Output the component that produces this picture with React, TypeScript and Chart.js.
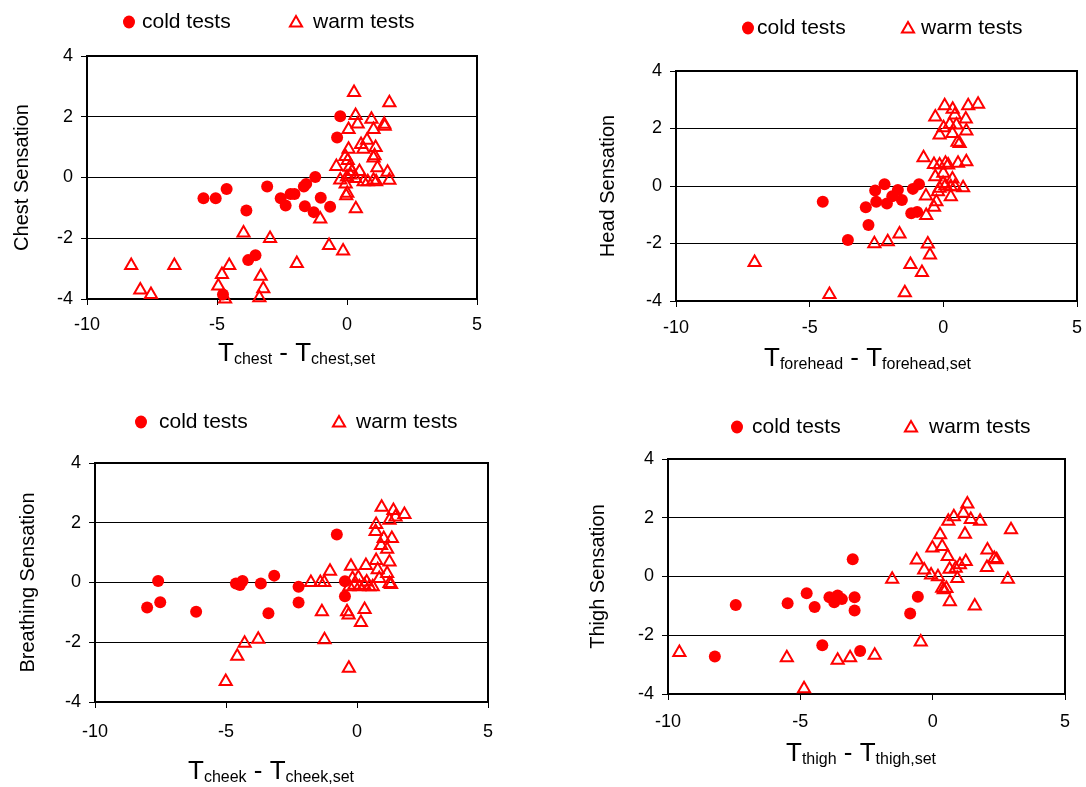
import React, { useEffect, useRef } from 'react';
import { Chart, registerables } from 'chart.js';

Chart.register(...registerables);

const FONT = "'Liberation Sans', Arial, Helvetica, sans-serif";
const RED = '#FF0000';

const xTicks = [-10, -5, 0, 5];
const yTicks = [-4, -2, 0, 2, 4];
const legendLabels = ['cold tests', 'warm tests'];

const chestCold: number[][] = [
  [-5.52, -0.68], [-5.05, -0.68], [-4.63, -0.38], [-3.07, -0.3], [-3.87, -1.09], [-3.8, -2.72],
  [-3.52, -2.56], [-4.77, -3.85], [-2.55, -0.68], [-2.36, -0.92], [-2.17, -0.54], [-2.02, -0.54],
  [-1.62, -0.95], [-1.28, -1.14], [-1.01, -0.67], [-0.65, -0.96], [-1.22, 0.02], [-1.57, -0.21],
  [-1.66, -0.3], [-0.26, 2.02], [-0.38, 1.32],
];
const chestWarm: number[][] = [
  [-8.3, -2.9], [-6.64, -2.9], [-7.95, -3.7], [-7.54, -3.85], [-3.98, -1.83], [-2.96, -2.01],
  [-4.53, -2.9], [-4.81, -3.19], [-4.95, -3.57], [-4.69, -4.0], [-3.32, -3.25], [-3.22, -3.66],
  [-3.37, -3.96], [0.27, 2.8], [1.63, 2.46], [0.33, 2.04], [0.41, 1.76], [0.06, 1.58], [0.94, 1.92],
  [1.02, 1.58], [1.43, 1.75], [1.45, 1.69], [0.77, 1.23], [0.54, 1.09], [0.63, 0.93], [0.06, 0.93],
  [1.1, 0.99], [1.06, 0.72], [1.02, 0.64], [-0.06, 0.69], [0.03, 0.56], [-0.41, 0.36], [1.17, 0.32],
  [0.1, 0.34], [0.19, 0.2], [0.48, 0.2], [-0.26, -0.08], [0.0, 0.02], [0.13, 0.08], [0.32, -0.03],
  [0.64, -0.14], [0.8, -0.14], [1.02, -0.09], [1.12, -0.14], [1.56, 0.17], [1.63, -0.09],
  [-0.05, -0.21], [0.01, -0.52], [-0.03, -0.6], [0.34, -1.03], [-1.03, -1.37], [-0.69, -2.24],
  [-0.15, -2.42], [-1.93, -2.83],
];

const headCold: number[][] = [
  [-4.51, -0.55], [-2.9, -0.74], [-2.8, -1.36], [-3.57, -1.88], [-2.55, -0.16], [-2.51, -0.55],
  [-2.2, 0.06], [-2.11, -0.61], [-1.91, -0.36], [-1.7, -0.14], [-1.55, -0.49], [-1.14, -0.1],
  [-0.91, 0.06], [-1.2, -0.95], [-0.98, -0.9],
];
const headWarm: number[][] = [
  [-7.06, -2.66], [-4.26, -3.77], [0.05, 2.79], [0.35, 2.67], [0.93, 2.79], [1.3, 2.84], [-0.3, 2.4],
  [0.43, 2.47], [0.84, 2.33], [0.01, 2.03], [0.24, 2.14], [0.49, 2.12], [-0.14, 1.77], [0.34, 1.83],
  [0.86, 1.91], [0.53, 1.52], [0.61, 1.48], [-0.74, 0.98], [-0.35, 0.75], [-0.14, 0.73], [0.08, 0.79],
  [0.18, 0.73], [0.55, 0.79], [0.86, 0.84], [-0.3, 0.32], [0.0, 0.44], [0.34, 0.24], [-0.01, 0.09],
  [-0.14, -0.08], [0.08, 0.01], [0.28, -0.03], [0.43, -0.03], [0.74, -0.06], [-0.2, -0.2],
  [0.28, -0.37], [-0.65, -0.35], [-0.26, -0.55], [-0.35, -0.74], [-0.64, -1.03], [-1.64, -1.67],
  [-2.08, -1.94], [-2.58, -2.01], [-0.58, -2.02], [-0.5, -2.4], [-1.23, -2.73], [-0.8, -3.01],
  [-1.44, -3.71],
];

const cheekCold: number[][] = [
  [-7.59, 0.05], [-8.01, -0.84], [-7.51, -0.66], [-6.14, -0.98], [-4.62, -0.03], [-4.47, -0.08],
  [-4.37, 0.05], [-3.67, -0.03], [-3.16, 0.23], [-3.38, -1.03], [-0.77, 1.61], [-2.23, -0.14],
  [-2.23, -0.67], [-0.46, 0.04], [-0.46, -0.46],
];
const cheekWarm: number[][] = [
  [-4.29, -2.03], [-3.77, -1.9], [-4.57, -2.47], [-5.01, -3.31], [0.94, 2.52], [1.39, 2.41],
  [1.81, 2.28], [1.24, 2.08], [1.47, 2.19], [0.73, 1.94], [0.71, 1.71], [1.02, 1.47], [1.33, 1.47],
  [0.92, 1.24], [1.15, 1.11], [0.73, 0.74], [1.24, 0.69], [-0.23, 0.54], [0.34, 0.57], [-1.03, 0.38],
  [-1.76, 0.0], [-1.4, 0.0], [-1.25, 0.0], [0.79, 0.43], [1.15, 0.3], [0.85, 0.13], [1.24, -0.03],
  [1.3, -0.07], [-0.17, 0.13], [0.05, 0.17], [-0.1, -0.09], [0.09, -0.14], [0.28, -0.09],
  [0.37, 0.02], [0.47, -0.14], [0.6, -0.14], [-0.29, -0.14], [-1.34, -0.98], [-0.38, -0.98],
  [-0.32, -1.09], [0.29, -0.9], [0.15, -1.34], [-1.24, -1.92], [-0.31, -2.87],
];

const thighCold: number[][] = [
  [-7.44, -0.97], [-5.48, -0.91], [-4.76, -0.57], [-4.46, -1.04], [-3.9, -0.71], [-3.72, -0.88],
  [-3.59, -0.65], [-3.43, -0.77], [-2.95, -0.71], [-2.95, -1.16], [-3.02, 0.59], [-4.17, -2.34],
  [-8.23, -2.72], [-2.74, -2.54], [-0.56, -0.69], [-0.85, -1.26],
];
const thighWarm: number[][] = [
  [-9.57, -2.59], [-5.51, -2.77], [-3.59, -2.85], [-3.12, -2.77], [-4.86, -3.82], [1.31, 2.47],
  [1.16, 2.15], [0.8, 2.03], [0.59, 1.88], [1.44, 1.94], [1.79, 1.88], [2.96, 1.59], [0.28, 1.42],
  [1.22, 1.44], [-0.01, 0.97], [0.36, 1.02], [0.57, 0.68], [-0.6, 0.56], [2.07, 0.9], [2.33, 0.61],
  [2.42, 0.57], [1.25, 0.51], [1.03, 0.4], [0.87, 0.28], [0.64, 0.25], [2.05, 0.31], [-0.32, 0.22],
  [-0.06, 0.05], [0.2, -0.01], [0.93, -0.07], [-1.53, -0.09], [2.84, -0.09], [0.36, -0.4],
  [0.42, -0.45], [0.52, -0.41], [0.65, -0.86], [1.59, -1.0], [-0.45, -2.23], [-2.19, -2.68],
];

type PanelCfg = {
  canvas: number[]; // left, top, width, height (page px)
  area: number[]; // left, top, right, bottom (page px)
  yTitle: string;
  yTitleX: number;
  sub: string;
  titleStart: number;
  titleY: number;
  legendY: number;
  legendX: number[];
  xPad: number;
  cold: number[][];
  warm: number[][];
};

const panels: PanelCfg[] = [
  {
    canvas: [0, 0, 543, 393], area: [87, 56, 477, 299], yTitle: 'Chest Sensation', yTitleX: 22,
    sub: 'chest', titleStart: 218, titleY: 352, legendY: 22, legendX: [129, 142, 296, 313], xPad: 9,
    cold: chestCold, warm: chestWarm,
  },
  {
    canvas: [543, 0, 543, 393], area: [676, 71, 1078, 301], yTitle: 'Head Sensation', yTitleX: 608,
    sub: 'forehead', titleStart: 764, titleY: 357, legendY: 28, legendX: [748, 757, 908, 921], xPad: 10,
    cold: headCold, warm: headWarm,
  },
  {
    canvas: [0, 393, 543, 394], area: [95, 463, 488, 702], yTitle: 'Breathing Sensation', yTitleX: 28,
    sub: 'cheek', titleStart: 188, titleY: 770, legendY: 422, legendX: [141, 159, 339, 356], xPad: 13,
    cold: cheekCold, warm: cheekWarm,
  },
  {
    canvas: [543, 393, 543, 394], area: [668, 459, 1065, 694], yTitle: 'Thigh Sensation', yTitleX: 598,
    sub: 'thigh', titleStart: 786, titleY: 752, legendY: 427, legendX: [737, 752, 911, 929], xPad: 11,
    cold: thighCold, warm: thighWarm,
  },
];

function drawTri(ctx: CanvasRenderingContext2D, x: number, y: number, r: number) {
  ctx.beginPath();
  for (let i = 0; i < 3; i++) {
    const a = (i * 2 * Math.PI) / 3;
    const px = x + Math.sin(a) * r;
    const py = y - Math.cos(a) * r;
    if (i === 0) ctx.moveTo(px, py);
    else ctx.lineTo(px, py);
  }
  ctx.closePath();
  ctx.stroke();
}

function Panel({ p }: { p: PanelCfg }) {
  const ref = useRef<HTMLCanvasElement>(null);
  const [cx, cy, cw, ch] = p.canvas;
  useEffect(() => {
    const [al, at, ar, ab] = p.area;
    const decor = {
      id: 'decor',
      beforeDatasetsDraw(chart: any) {
        const { ctx, chartArea: a } = chart;
        ctx.save();
        ctx.strokeStyle = '#000';
        ctx.lineWidth = 2;
        ctx.strokeRect(a.left, a.top, a.right - a.left, a.bottom - a.top);
        ctx.restore();
      },
      afterDraw(chart: any) {
        const ctx: CanvasRenderingContext2D = chart.ctx;
        ctx.save();
        // legend
        const ly = p.legendY - cy;
        ctx.fillStyle = RED;
        ctx.beginPath();
        ctx.ellipse(p.legendX[0] - cx, ly, 6, 6.5, 0, 0, Math.PI * 2);
        ctx.fill();
        ctx.strokeStyle = RED;
        ctx.lineWidth = 2;
        drawTri(ctx, p.legendX[2] - cx, ly + 1, 7);
        ctx.fillStyle = '#000';
        ctx.font = `21px ${FONT}`;
        ctx.textBaseline = 'middle';
        ctx.textAlign = 'left';
        ctx.fillText(legendLabels[0], p.legendX[1] - cx, ly);
        ctx.fillText(legendLabels[1], p.legendX[3] - cx, ly);
        // x title with subscripts
        const base = p.titleY - cy + 9;
        ctx.textBaseline = 'alphabetic';
        let x = p.titleStart - cx;
        const big = `26px ${FONT}`;
        const small = `16px ${FONT}`;
        const parts: [string, string, number][] = [
          ['T', big, 0],
          [p.sub, small, 3],
          [' - T', big, 0],
          [p.sub + ',set', small, 3],
        ];
        for (const [t, f, dy] of parts) {
          ctx.font = f;
          ctx.fillText(t, x, base + dy);
          x += ctx.measureText(t).width;
        }
        ctx.restore();
      },
    };
    const chart = new Chart(ref.current as HTMLCanvasElement, {
      type: 'scatter',
      data: {
        datasets: [
          {
            label: legendLabels[0],
            data: p.cold.map(([x, y]) => ({ x, y })),
            pointStyle: 'circle',
            pointRadius: 6,
            backgroundColor: RED,
            borderColor: RED,
            borderWidth: 0,
            clip: false as any,
          },
          {
            label: legendLabels[1],
            data: p.warm.map(([x, y]) => ({ x, y })),
            pointStyle: 'triangle',
            pointRadius: 7,
            backgroundColor: 'rgba(0,0,0,0)',
            borderColor: RED,
            borderWidth: 2,
            clip: false as any,
          },
        ],
      },
      options: {
        responsive: false,
        animation: false,
        devicePixelRatio: 1,
        events: [],
        layout: { padding: { left: 0, top: at - cy, right: cx + cw - ar, bottom: 0 } },
        plugins: { legend: { display: false }, tooltip: { enabled: false } },
        scales: {
          x: {
            type: 'linear',
            min: xTicks[0],
            max: xTicks[xTicks.length - 1],
            afterFit: (s: any) => {
              s.height = cy + ch - ab;
              s.paddingLeft = 0;
              s.paddingRight = 0;
            },
            afterBuildTicks: (s: any) => { s.ticks = xTicks.map((v) => ({ value: v })); },
            ticks: {
              font: { family: FONT, size: 18 }, color: '#000', padding: p.xPad, maxRotation: 0,
              callback: (v: any) => String(v),
            },
            grid: { drawOnChartArea: false, color: '#000', tickLength: 6, lineWidth: 1 },
            border: { display: false },
          },
          y: {
            type: 'linear',
            min: yTicks[0],
            max: yTicks[yTicks.length - 1],
            afterFit: (s: any) => {
              s.width = al - cx;
              s.paddingTop = 0;
              s.paddingBottom = 0;
            },
            afterBuildTicks: (s: any) => { s.ticks = yTicks.map((v) => ({ value: v })); },
            ticks: {
              font: { family: FONT, size: 18 }, color: '#000', padding: 8,
              callback: (v: any) => String(v),
            },
            grid: { color: '#000', tickLength: 6, lineWidth: 1 },
            border: { display: false },
            title: {
              display: true,
              text: p.yTitle,
              color: '#000',
              font: { family: FONT, size: 20 },
              padding: { top: p.yTitleX - cx - 12, bottom: 0 },
            },
          },
        },
      } as any,
      plugins: [decor],
    });
    return () => chart.destroy();
  }, []);
  return (
    <canvas
      ref={ref}
      width={cw}
      height={ch}
      style={{ position: 'absolute', left: cx, top: cy, width: cw, height: ch }}
    />
  );
}

export default function App() {
  return (
    <div style={{ position: 'absolute', left: 0, top: 0, width: 1086, height: 787, background: '#fff' }}>
      {panels.map((p, i) => (
        <Panel key={i} p={p} />
      ))}
    </div>
  );
}
